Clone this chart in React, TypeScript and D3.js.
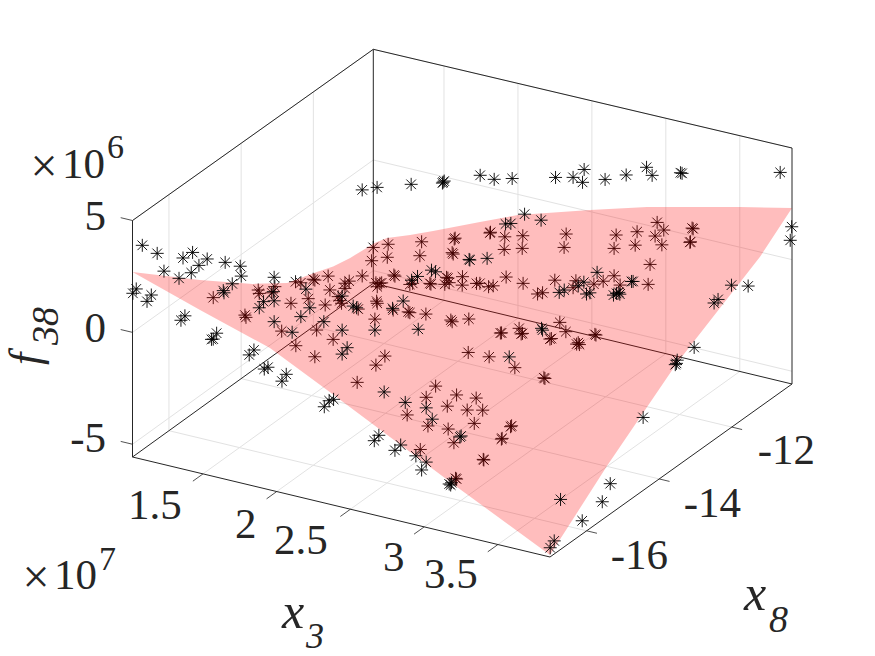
import React from "react";
import * as d3 from "d3";

const x3Domain = [1.022, 3.853];
const x8Domain = [-17.01, -10.34];
const fDomain = [-5.57, 5];

const x3Ticks = [1.5, 2, 2.5, 3, 3.5];
const x8Ticks = [-16, -14, -12];
const fTicks = [-5, 0, 5];

// surface outline, one list per side of the x3/x8 rectangle (f in 1e6, x3 in 1e7)
const sideLowX8X3 = [1.022, 1.48, 1.954, 2.341, 3.222, 3.853];
const sideLowX8F = [2.68, 1.71, 0.76, -0.5, -3.44, -5.48];
const sideHighX3X8 = [-17.01, -15.44, -13.51, -11.22, -10.34];
const sideHighX3F = [-5.48, -3.33, -0.97, 1.12, 2.28];
const sideHighX8X3 = [1.022, 1.107, 1.263, 1.419, 1.737, 1.995, 2.483, 2.87, 3.5, 3.853];
const sideHighX8F = [-3.74, -3.38, -3.01, -2.58, -1.68, -0.96, 0.03, 0.77, 1.77, 2.28];
const sideLowX3X8 = [-17.01, -15.15, -13.69, -12.75, -11.93, -11.48, -11.01, -10.66, -10.34];
const sideLowX3F = [2.68, 0.17, -1.69, -2.74, -3.19, -3.47, -3.63, -3.69, -3.74];

// samples above the surface, grouped by x8
const overX8 = [-17, -16.8, -16, -15.5, -15, -14, -12, -11, -10.34];
const overX3 = [
  [1.086, 1.187, 1.362, 1.427, 1.47, 1.418, 1.233, 1.335, 1.045, 1.022, 1.147, 1.118, 1.375, 1.348, 3.852],
  [3.83],
  [1.28, 1.402, 1.504, 1.511, 1.45, 1.389, 1.394, 1.344, 1.321, 1.309, 1.597, 1.565, 1.692, 1.667, 1.816, 1.787, 2.107, 2.137, 2.074, 2.413, 2.444, 2.592, 2.553, 2.695, 2.765, 2.734, 2.937, 2.921, 2.931, 3.676, 3.823, 3.002, 2.994],
  [3.836],
  [3.767],
  [3.744, 1.242, 1.236, 1.242, 1.17, 1.141, 1.242, 1.364, 1.423, 1.484, 1.457, 1.579, 1.703, 1.737, 1.703, 1.703, 1.778, 1.801, 1.925, 2.045, 2.117, 2.219, 1.988, 2.131, 2.273, 2.314, 2.836, 3.055, 3.062, 3.175, 3.209, 3.342, 3.36, 3.383, 3.432, 3.543, 3.564, 3.579, 3.586, 3.665, 3.676, 3.304],
  [3.598, 3.483, 3.478, 3.47, 1.347, 1.448, 1.679, 1.896, 1.903, 1.891, 2.147, 2.242, 2.364, 2.658, 2.777, 2.852, 2.841, 2.994, 2.448, 2.56, 2.319, 2.355, 2.072, 2.077, 2.194, 1.817, 1.844, 1.682, 1.722],
  [2.891, 3.029, 3.067, 3.259, 3.27, 3.605, 3.718, 3.514, 3.487],
  [3.773, 3.851, 3.841],
];
const overF = [
  [3.96, 3.76, 3.83, 4.18, 3.67, 3.26, 3.04, 2.88, 1.95, 1.72, 1.84, 1.51, 1.27, 1.03, -5.17],
  [-5.13],
  [2.5, 2.54, 2.53, 2.1, 1.66, 1.26, 1.17, -0.71, -1.01, -1.04, -1.06, -1.33, -1.68, -1.8, -1.8, -2.15, -2.52, -2.41, -2.84, -3.82, -3.53, -3.73, -4.03, -4.05, -4.22, -4.62, -4.87, -4.95, -4.98, -4.45, -5.17, -2.68, -2.74],
  [-4.88],
  [-4.76],
  [-3.0, -0.69, -1.34, -1.74, -1.89, -2.21, -2.67, -2.95, -2.16, -1.67, -0.88, -2.14, -2.32, -3.05, -3.39, -0.8, -1.13, -1.17, -1.97, -0.81, -0.37, -1.47, -4.63, -4.87, -4.89, -5.33, -1.73, -0.11, -0.18, 1.68, 1.84, 2.4, 1.9, 1.99, 2.98, 2.14, 2.25, 2.32, 2.25, 2.94, 2.96, 2.18],
  [-2.42, -3.17, -3.32, -3.39, 1.06, 1.33, 1.83, 2.27, 2.33, 2.22, 2.97, 2.94, 3.17, 3.68, 3.87, 4.34, 3.75, 4.12, 1.71, 1.62, 1.07, 1.15, -0.9, -0.92, -0.66, -1.78, -1.81, -2.44, -2.21],
  [3.0, 3.56, 3.26, 3.68, 3.67, -0.79, -0.65, -1.57, -1.77],
  [3.74, 1.44, 0.82],
];

// samples below the surface (seen through it)
const underX8 = [-16, -14, -12];
const underX3 = [
  [1.321, 1.536, 1.543, 1.626, 1.633, 2.765, 2.636, 2.829, 2.908, 2.971, 3.104, 3.043, 3.148, 3.091, 2.914, 2.777, 2.953, 3.344, 3.337, 3.28, 3.275, 3.152, 3.156, 2.725, 2.964, 2.971],
  [1.247, 1.225, 1.356, 1.293, 1.473, 1.387, 1.423, 1.507, 1.518, 1.608, 1.62, 1.588, 1.53, 1.389, 1.518, 1.642, 1.676, 1.688, 1.699, 1.722, 1.751, 1.722, 1.812, 1.839, 1.914, 2.015, 1.903, 2.009, 1.932, 1.959, 1.971, 1.941, 2.054, 2.061, 2.162, 2.181, 1.937, 1.941, 1.925, 2.049, 2.151, 2.162, 2.271, 1.993, 1.932, 1.805, 2.298, 2.305, 2.784, 2.776, 2.903, 2.926, 2.917, 3.179, 3.22, 3.112, 3.122, 3.417, 3.424, 3.304, 3.293, 3.312, 2.558, 2.7, 2.874, 3.071, 3.078],
  [1.75, 1.738, 1.971, 1.977, 1.957, 1.964, 1.919, 1.928, 1.907, 1.937, 2.027, 2.025, 2.122, 1.948, 1.957, 2.07, 2.217, 2.213, 2.314, 2.436, 2.31, 2.432, 2.73, 2.716, 3.069, 3.055, 3.211, 3.198, 3.347, 3.333, 3.392, 3.379, 3.584, 3.591, 3.569, 3.573, 3.299, 2.653, 2.796, 2.777, 2.536, 2.57, 2.438, 2.323, 2.235, 2.204, 2.145, 2.918, 2.981, 3.055, 3.096, 3.286],
];
const underF = [
  [0.84, 0.4, 0.31, 1.66, 1.52, -1.33, -2.32, -0.73, -1.5, -0.9, -0.83, -1.46, -1.3, -1.98, -2.51, -2.59, -3.06, -1.69, -1.74, -2.35, -2.39, -3.49, -3.51, -3.72, -4.63, -4.65],
  [-1.1, -1.41, -1.67, -3.01, -1.28, -0.66, -0.65, -0.36, -0.38, -0.06, -0.66, -1.38, -2.59, -3.51, -3.8, -2.83, -0.87, -1.03, -1.13, -0.2, -0.06, -0.43, -1.21, 0.31, 1.7, 2.0, 1.09, 1.41, 0.15, 0.17, 0.21, -0.01, 0.69, 0.65, 0.44, 0.52, -0.66, -0.75, -1.48, -0.88, -0.8, -0.82, -0.71, -3.02, -3.52, -4.49, 0.7, 0.68, -0.74, -0.76, -0.35, -0.54, -0.58, 0.35, 0.0, -0.5, -0.46, 0.19, 0.17, -0.36, -0.44, -0.43, -1.97, -1.94, -2.15, -2.29, -2.31],
  [-0.62, -1.26, -0.15, -0.1, -0.78, -0.83, -1.94, -1.96, -2.27, -2.15, -1.74, -2.12, -1.89, -3.8, -3.86, -3.56, 0.54, 0.5, 0.49, 0.73, -0.08, 0.16, 1.27, 0.65, 1.76, 1.14, 2.13, 1.51, 2.76, 2.13, 2.49, 1.81, 2.88, 2.86, 2.22, 2.25, 0.81, -0.91, -0.71, -1.05, -1.71, -1.6, -1.39, -1.29, -1.82, -1.91, -1.85, -0.67, -0.44, -0.08, -0.43, -0.1],
];

const width = 875;
const height = 656;
const textColor = "#262626";
const gridColor = "#e2e2e2";
const serif = "'Liberation Serif', serif";

// fixed view of the 3D box: each axis runs along one screen direction
const sx3 = d3.scaleLinear().domain(x3Domain).range([0, 1]);
const sx8 = d3.scaleLinear().domain(x8Domain).range([0, 1]);
const sf = d3.scaleLinear().domain(fDomain).range([0, 1]);

const project = (x3: number, x8: number, f: number): [number, number] => {
  const a = sx3(x3);
  const b = sx8(x8);
  const c = sf(f);
  return [132.5 + 417.5 * a + 242 * b, 457 + 100 * a - 173 * b - 237 * c];
};

// the box itself has a touch of perspective, the back corner sits a bit shorter
const frame = (x3: number, x8: number, f: number): [number, number] => {
  const a = sx3(x3);
  const b = sx8(x8);
  const c = sf(f);
  const h = 236.5 - 2.5 * b + 2 * a * b;
  return [
    132.5 + 417.5 * a + 240.8 * b + 1.2 * a * b,
    457 + 100 * a - 173.7 * b + 0.7 * a * b - h * c,
  ];
};

const line = d3.line();
const seg = (p: [number, number, number], q: [number, number, number]) =>
  line([frame(p[0], p[1], p[2]), frame(q[0], q[1], q[2])]) as string;

const [x3a, x3b] = x3Domain;
const [x8a, x8b] = x8Domain;
const [fa, fb] = fDomain;

const gridLines = [
  ...x3Ticks.flatMap((t) => [
    seg([t, x8a, fa], [t, x8b, fa]),
    seg([t, x8b, fa], [t, x8b, fb]),
  ]),
  ...x8Ticks.flatMap((t) => [
    seg([x3a, t, fa], [x3b, t, fa]),
    seg([x3a, t, fa], [x3a, t, fb]),
  ]),
  ...fTicks.flatMap((t) => [
    seg([x3a, x8a, t], [x3a, x8b, t]),
    seg([x3a, x8b, t], [x3b, x8b, t]),
  ]),
];

const boxLines = [
  seg([x3a, x8a, fa], [x3b, x8a, fa]),
  seg([x3b, x8a, fa], [x3b, x8b, fa]),
  seg([x3b, x8b, fa], [x3a, x8b, fa]),
  seg([x3a, x8b, fa], [x3a, x8a, fa]),
  seg([x3a, x8a, fa], [x3a, x8a, fb]),
  seg([x3a, x8b, fa], [x3a, x8b, fb]),
  seg([x3b, x8b, fa], [x3b, x8b, fb]),
  seg([x3a, x8a, fb], [x3a, x8b, fb]),
  seg([x3a, x8b, fb], [x3b, x8b, fb]),
];

const tickLines = [
  ...x3Ticks.map((t) => seg([t, x8a, fa], [t, x8a - 0.28, fa])),
  ...x8Ticks.map((t) => seg([x3b, t, fa], [x3b + 0.07, t, fa])),
  ...fTicks.map((t) => seg([x3a, x8a, t], [x3a - 0.08, x8a, t])),
];

const surfacePoints: [number, number][] = [
  ...sideLowX8X3.map((x, i) => project(x, x8a, sideLowX8F[i])),
  ...sideHighX3X8.map((y, i) => project(x3b, y, sideHighX3F[i])),
  ...sideHighX8X3.map((x, i) => project(x, x8b, sideHighX8F[i])).reverse(),
  ...sideLowX3X8.map((y, i) => project(x3a, y, sideLowX3F[i])).reverse(),
];
const surfacePath = d3.line()(surfacePoints) + "Z";

// MATLAB style '*' marker
const arm = 6.5;
const diag = 4.8;
const asterisk =
  `M${-arm},0L${arm},0M0,${-arm}L0,${arm}` +
  `M${-diag},${-diag}L${diag},${diag}M${-diag},${diag}L${diag},${-diag}`;

const flatten = (levels: number[], xs: number[][], fs: number[][]) =>
  levels.flatMap((lv, i) => xs[i].map((x, j) => project(x, lv, fs[i][j])));

const underMarks = flatten(underX8, underX3, underF);
const overMarks = flatten(overX8, overX3, overF);

const Marks = ({ pts }: { pts: [number, number][] }) => (
  <g fill="none" stroke="#000" strokeWidth={0.9}>
    {pts.map((p, i) => (
      <path key={i} d={asterisk} transform={`translate(${p[0]},${p[1]})`} />
    ))}
  </g>
);

const Num = ({ x, y, s, anchor = "start", size = 43 }: any) => (
  <text x={x} y={y} textAnchor={anchor} fontSize={size} fontFamily={serif} fill={textColor}>
    {s}
  </text>
);

const Ital = ({ x, y, s, size }: any) => (
  <text x={x} y={y} fontSize={size} fontStyle="italic" fontFamily={serif} fill={textColor}>
    {s}
  </text>
);

export default function App() {
  return (
    <svg
      width={width}
      height={height}
      style={{ position: "absolute", left: 0, top: 0, background: "#fff" }}
    >
      <g fill="none" stroke={gridColor} strokeWidth={1}>
        {gridLines.map((d, i) => (
          <path key={i} d={d} />
        ))}
      </g>
      <g fill="none" stroke={textColor} strokeWidth={1}>
        {boxLines.map((d, i) => (
          <path key={i} d={d} />
        ))}
        {tickLines.map((d, i) => (
          <path key={i} d={d} strokeWidth={0.8} />
        ))}
      </g>
      <Marks pts={underMarks} />
      <path d={surfacePath} fill="#ff0000" fillOpacity={0.26} stroke="none" />
      <Marks pts={overMarks} />

      <Num x={106} y={230} s="5" anchor="end" />
      <Num x={106} y={342} s="0" anchor="end" />
      <Num x={106} y={452} s="-5" anchor="end" />
      <Num x={30.5} y={182} s="×" size={48} />
      <Num x={62} y={178} s="10" />
      <Num x={107} y={158} s="6" size={34} />

      <Num x={22.5} y={593} s="×" size={48} />
      <Num x={54} y={589} s="10" />
      <Num x={99} y={570} s="7" size={34} />

      <Num x={128} y={519} s="1.5" />
      <Num x={235} y={538} s="2" />
      <Num x={274} y={554} s="2.5" />
      <Num x={383} y={571} s="3" />
      <Num x={424} y={588} s="3.5" />

      <Num x={815} y={464} s="-12" anchor="end" />
      <Num x={741} y={517} s="-14" anchor="end" />
      <Num x={668} y={569} s="-16" anchor="end" />

      <Ital x={282} y={628} s="x" size={50} />
      <Ital x={306} y={648} s="3" size={36} />
      <Ital x={744} y={610} s="x" size={50} />
      <Ital x={769} y={632} s="8" size={38} />

      <g transform="translate(39.5,365) rotate(-90)">
        <Ital x={0} y={0} s="f" size={44} />
      </g>
      <g transform="translate(58,345) rotate(-90)">
        <Ital x={0} y={0} s="38" size={38} />
      </g>
    </svg>
  );
}
